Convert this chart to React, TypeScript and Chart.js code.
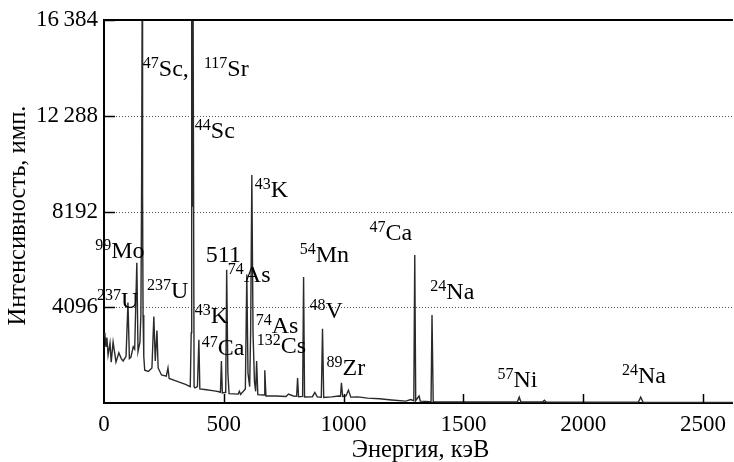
import React, { useEffect, useRef } from "react";
import { Chart, registerables } from "chart.js";

Chart.register(...registerables);

// Spectrum: energy (keV) and counts
const energies = [
  0, 4, 8, 12, 17, 25, 30, 38, 50, 62, 72, 80, 92, 100, 106, 112, 122, 128, 137, 142,
  150, 154, 157, 159, 161, 163, 166, 170, 185, 200, 208, 214, 221, 226, 240, 260, 267, 272,
  300, 340, 360, 364, 366, 369, 372, 376, 380, 390, 396, 400, 420, 460, 480, 486, 490, 494,
  505, 508, 512, 517, 522, 560, 565, 570, 590, 596, 601, 608, 612, 617, 622, 628, 633, 637, 642,
  665, 668, 671, 676, 720, 760, 770, 790, 804, 808, 812, 829, 833, 837, 870, 880, 890, 907, 912, 917, 950,
  980, 987, 991, 996, 1010, 1020, 1030, 1060, 1100, 1150, 1200, 1260, 1280, 1293, 1297, 1301, 1315,
  1320, 1360, 1365, 1369, 1374, 1400, 1600, 1725, 1733, 1740, 1830, 1838, 1845, 2100, 2230,
  2240, 2250, 2625,
];
const counts = [
  3000, 2900, 2400, 2800, 2050, 2560, 1750, 2600, 1750, 2150, 1900, 1800, 2000, 4300, 1900, 1950, 2400, 2300, 6000, 2200,
  2600, 3800, 9400, 16384, 9000, 3760, 2000, 1400, 1350, 1500, 3700, 1800, 3100, 1500, 1200, 1150, 1500, 1050,
  950, 800, 700, 3000, 16384, 8400, 16384, 700, 650, 700, 2700, 600, 580, 520, 480, 460, 1800, 430,
  450, 450, 5700, 1280, 400, 380, 500, 370, 600, 5500, 1280, 700, 3000, 9750, 3000, 900, 500, 1800, 360,
  340, 340, 1400, 300, 300, 280, 380, 300, 290, 1070, 270, 280, 5390, 260, 270, 450, 260, 250, 3180, 240, 260,
  300, 290, 860, 280, 300, 550, 250, 260, 210, 180, 130, 80, 150, 100, 6330, 100, 300,
  80, 60, 60, 3760, 60, 50, 40, 40, 250, 40, 40, 120, 40, 30, 30,
  250, 30, 20,
];

const xTicks = [0, 500, 1000, 1500, 2000, 2500];
const yTicks = [4096, 8192, 12288, 16384];

// Peak annotations: mass number, element, anchor (energy keV, counts)
const labelMass = ["47", "117", "44", "43", "99", "", "74", "54", "237", "237", "43", "74", "48", "47", "132", "89", "47", "24", "57", "24"];
const labelElement = ["Sc,", "Sr", "Sc", "K", "Mo", "511", "As", "Mn", "U", "U", "K", "As", "V", "Ca", "Cs", "Zr", "Ca", "Na", "Ni", "Na"];
const labelEnergy = [162, 417, 379, 629, -37, 425, 517, 817, -29, 179, 379, 633, 858, 408, 637, 929, 1108, 1362, 1642, 2162];
const labelCount = [13990, 13990, 11337, 8813, 6203, 6032, 5176, 6032, 4064, 4492, 3422, 2995, 3636, 2053, 2139, 1198, 6973, 4449, 684, 856];

const xTitle = "Энергия, кэВ";
const yTitle = "Интенсивность, имп.";

const FONT = '"Liberation Serif", "DejaVu Serif", serif';

function fmt(v: number): string {
  if (v >= 10000) {
    const s = String(v);
    return s.slice(0, s.length - 3) + "\u2009" + s.slice(s.length - 3);
  }
  return String(v);
}

const decor = {
  id: "decor",
  beforeDatasetsDraw(chart: any) {
    const { ctx, chartArea, scales } = chart;
    const y = scales.y;
    ctx.save();
    ctx.strokeStyle = "#555";
    ctx.lineWidth = 1;
    ctx.setLineDash([1, 2]);
    for (const v of yTicks) {
      if (v >= 16384) continue;
      const py = Math.round(y.getPixelForValue(v)) + 0.5;
      ctx.beginPath();
      ctx.moveTo(chartArea.left, py);
      ctx.lineTo(chartArea.right, py);
      ctx.stroke();
    }
    ctx.restore();
  },
  afterDatasetsDraw(chart: any) {
    const { ctx, chartArea, scales } = chart;
    const x = scales.x;
    const y = scales.y;
    const { left, right, top, bottom } = chartArea;
    ctx.save();
    ctx.setLineDash([]);
    ctx.strokeStyle = "#000";
    // inward ticks
    ctx.lineWidth = 1.5;
    for (const v of yTicks) {
      const py = Math.round(y.getPixelForValue(v)) + 0.5;
      ctx.beginPath();
      ctx.moveTo(left, py);
      ctx.lineTo(left + 11, py);
      ctx.stroke();
    }
    for (const v of xTicks) {
      if (v === 0) continue;
      const px = Math.round(x.getPixelForValue(v)) + 0.5;
      ctx.beginPath();
      ctx.moveTo(px, bottom);
      ctx.lineTo(px, bottom - 9);
      ctx.stroke();
    }
    // top frame
    ctx.lineWidth = 2;
    ctx.beginPath();
    ctx.moveTo(left, top);
    ctx.lineTo(right, top);
    ctx.stroke();

    // annotations
    ctx.fillStyle = "#000";
    ctx.textBaseline = "alphabetic";
    ctx.textAlign = "left";
    for (let i = 0; i < labelElement.length; i++) {
      let px = x.getPixelForValue(labelEnergy[i]);
      const py = y.getPixelForValue(labelCount[i]);
      if (labelMass[i]) {
        ctx.font = `16px ${FONT}`;
        ctx.fillText(labelMass[i], px, py - 8);
        px += ctx.measureText(labelMass[i]).width;
      }
      ctx.font = `24px ${FONT}`;
      ctx.fillText(labelElement[i], px, py);
    }

    // axis titles
    ctx.font = `24.5px ${FONT}`;
    ctx.textAlign = "center";
    ctx.textBaseline = "alphabetic";
    ctx.fillText(xTitle, (left + right) / 2 + 2, 457);
    ctx.save();
    ctx.translate(19, (top + bottom) / 2 + 4);
    ctx.rotate(-Math.PI / 2);
    ctx.textBaseline = "middle";
    ctx.fillText(yTitle, 0, 0);
    ctx.restore();
    ctx.restore();
  },
};

export default function App() {
  const ref = useRef<HTMLCanvasElement | null>(null);
  useEffect(() => {
    if (!ref.current) return;
    const chart = new Chart(ref.current, {
      type: "line",
      data: {
        datasets: [
          {
            data: energies.map((e, i) => ({ x: e, y: counts[i] })),
            borderColor: "#2a2a2a",
            borderWidth: 1.4,
            pointRadius: 0,
            tension: 0,
            fill: false,
          },
        ],
      },
      options: {
        animation: false,
        responsive: false,
        devicePixelRatio: 1,
        layout: { padding: { top: 20, right: 0, left: 0, bottom: 0 } },
        plugins: { legend: { display: false }, tooltip: { enabled: false } },
        scales: {
          x: {
            type: "linear",
            min: 0,
            max: 2625,
            afterBuildTicks: (s: any) => {
              s.ticks = xTicks.map((v) => ({ value: v }));
            },
            afterFit: (s: any) => {
              s.height = 59;
            },
            grid: { display: false, drawTicks: false },
            border: { display: true, color: "#000", width: 2 },
            ticks: {
              color: "#000",
              font: { family: FONT, size: 23 },
              padding: 8,
              maxRotation: 0,
              autoSkip: false,
              callback: (v: any) => fmt(Number(v)),
            },
          },
          y: {
            type: "linear",
            min: 0,
            max: 16384,
            afterBuildTicks: (s: any) => {
              s.ticks = yTicks.map((v) => ({ value: v }));
            },
            afterFit: (s: any) => {
              s.width = 104;
            },
            grid: { display: false, drawTicks: false },
            border: { display: true, color: "#000", width: 2 },
            ticks: {
              color: "#000",
              font: { family: FONT, size: 23 },
              padding: 6,
              autoSkip: false,
              callback: (v: any) => fmt(Number(v)),
            },
          },
        },
      },
      plugins: [decor],
    });
    return () => chart.destroy();
  }, []);
  return (
    <div style={{ position: "fixed", left: 0, top: 0, width: 734, height: 462, background: "#fff" }}>
      <canvas ref={ref} width={734} height={462} style={{ display: "block" }} />
    </div>
  );
}
